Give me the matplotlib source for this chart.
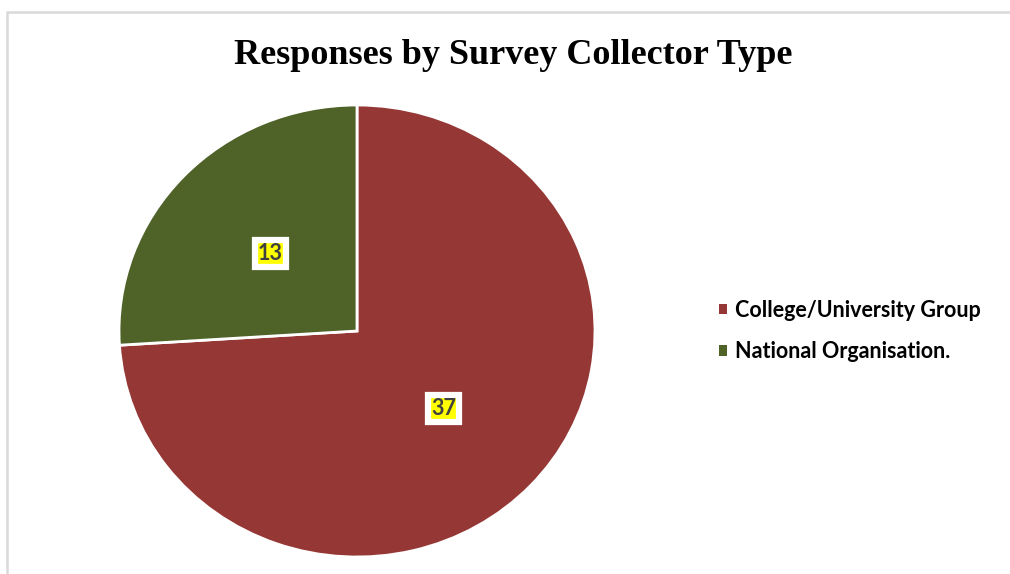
import matplotlib
matplotlib.use("Agg")
from matplotlib import pyplot as plt
from matplotlib.patches import Rectangle, Patch

# survey collector breakdown
collectors = ["College/University Group", "National Organisation."]
responses = [37, 13]
colours = ["#953735", "#4F6228"]

fig = plt.figure(figsize=(10.10, 5.74), dpi=100)

# light grey chart-area frame (open on the right and bottom)
fig.add_artist(Rectangle((7 / 1010, -0.05), 1.2, 1 - 12 / 574 + 0.05,
                         transform=fig.transFigure, fill=False,
                         edgecolor="#d9d9d9", linewidth=1.8))

fig.text(0.508, 1 - 56 / 574, "Responses by Survey Collector Type",
         ha="center", va="center", fontsize=26, fontweight="bold",
         family="Liberation Serif", color="black")

ax = fig.add_axes([119 / 1010, 17 / 574, 476 / 1010, 452 / 574])
wedges, texts, autotexts = ax.pie(
    responses, colors=colours, startangle=90, counterclock=False,
    autopct=lambda p: f"{round(p * sum(responses) / 100):d}",
    pctdistance=0.5, wedgeprops=dict(edgecolor="white", linewidth=2),
    textprops=dict(family="Lato", fontweight="bold", fontsize=15.5, color="#404040"))
ax.set_aspect("auto")
ax.set_xlim(-1, 1)
ax.set_ylim(-1, 1)

# yellow value tags with a white border
for t in autotexts:
    t.set_bbox(dict(boxstyle="square,pad=0.15", facecolor="#ffff00",
                    edgecolor="white", linewidth=4.5))

# plain square keys, without the white wedge outline
handles = [Patch(facecolor=c, edgecolor="none") for c in colours]
fig.legend(handles, collectors, loc="center left",
           bbox_to_anchor=(719 / 1010, 1 - 331 / 574), frameon=False,
           prop=dict(family="Lato", weight="bold", size=15.5),
           handlelength=0.38, handleheight=0.38, handletextpad=0.35,
           labelspacing=0.95, borderpad=0, borderaxespad=0)

fig.savefig("out.png", dpi=100)
